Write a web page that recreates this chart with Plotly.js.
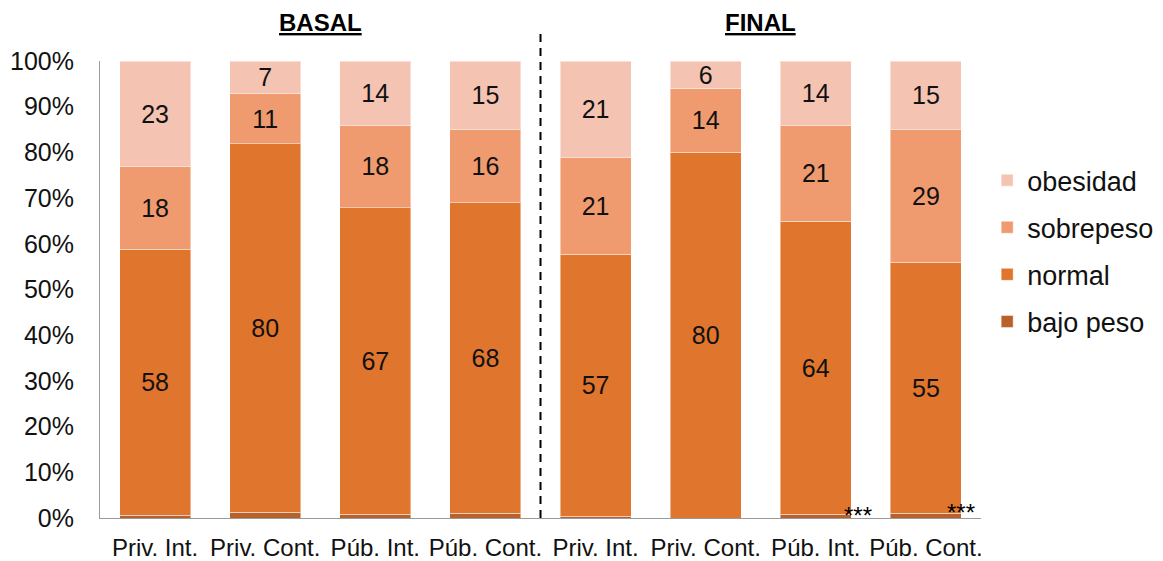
<!DOCTYPE html>
<html>
<head>
<meta charset="utf-8">
<script src="https://cdn.plot.ly/plotly-3.0.1.min.js"></script>
<style>
  html, body { margin: 0; padding: 0; background: #ffffff; }
  #chart { width: 1163px; height: 561px; }
</style>
</head>
<body>
<div id="chart"></div>
<script>
// Groups on the x axis (first four: baseline, last four: final)
const groupLabels = ['Priv. Int.', 'Priv. Cont.', 'Púb. Int.', 'Púb. Cont.',
                     'Priv. Int.', 'Priv. Cont.', 'Púb. Int.', 'Púb. Cont.'];
const positions = [0, 1, 2, 3, 4, 5, 6, 7];

// Percent of children in each nutritional category
const bajoPeso  = [0.6, 1.3, 0.8, 1.0, 0.4, 0.0, 0.8, 1.0];
const normal    = [58, 80, 67, 68, 57, 80, 64, 55];
const sobrepeso = [18, 11, 18, 16, 21, 14, 21, 29];
const obesidad  = [23, 7, 14, 15, 21, 6, 14, 15];

const seriesNames  = ['bajo peso', 'normal', 'sobrepeso', 'obesidad'];
const seriesColors = ['#B8612A', '#E0752D', '#F09A70', '#F5C3B2'];

const yTickValues = [0, 10, 20, 30, 40, 50, 60, 70, 80, 90, 100];
const yTickLabels = ['0%', '10%', '20%', '30%', '40%', '50%', '60%', '70%', '80%', '90%', '100%'];

const sectionTitles = ['BASAL', 'FINAL'];
const significance = ['***', '***'];

const font = 'Liberation Sans, Arial, sans-serif';

const seriesValues = [bajoPeso, normal, sobrepeso, obesidad];
const traces = seriesValues.map((vals, k) => ({
  type: 'bar',
  name: seriesNames[k],
  x: positions,
  y: vals,
  marker: { color: seriesColors[k], line: { color: 'rgba(255,255,255,0.45)', width: 1 } },
  text: k === 0 ? vals.map(() => '') : vals.map(String),
  textposition: k === 0 ? 'none' : 'inside',
  insidetextanchor: 'middle',
  textangle: 0,
  constraintext: 'none',
  insidetextfont: { family: font, size: 25, color: '#111111' },
  legendgroup: seriesNames[k],
  legendrank: 4 - k,
  hoverinfo: 'name+y'
}));

const layout = {
  width: 1163,
  height: 561,
  margin: { l: 100, r: 182, t: 61, b: 43, autoexpand: false },
  paper_bgcolor: '#ffffff',
  plot_bgcolor: '#ffffff',
  barmode: 'stack',
  barnorm: 'percent',
  bargap: 0.355,
  font: { family: font, color: '#111111' },
  showlegend: true,
  legend: {
    x: 1.007,
    xanchor: 'left',
    y: 0.584,
    yanchor: 'middle',
    traceorder: 'grouped',
    tracegroupgap: 9,
    font: { family: font, size: 27, color: '#111111' },
    bgcolor: 'rgba(0,0,0,0)'
  },
  xaxis: {
    range: [-0.5, 7.5],
    tickmode: 'array',
    tickvals: positions,
    ticktext: groupLabels,
    showline: true,
    linecolor: '#9a9a9a',
    linewidth: 1,
    ticks: 'outside',
    ticklen: 8,
    tickcolor: 'rgba(0,0,0,0)',
    tickfont: { family: font, size: 24, color: '#111111' },
    showgrid: false,
    zeroline: false,
    fixedrange: true
  },
  yaxis: {
    range: [0, 100],
    tickmode: 'array',
    tickvals: yTickValues,
    ticktext: yTickLabels,
    showline: true,
    linecolor: '#9a9a9a',
    linewidth: 1,
    ticks: 'outside',
    ticklen: 20,
    tickcolor: 'rgba(0,0,0,0)',
    tickfont: { family: font, size: 25, color: '#111111' },
    showgrid: false,
    zeroline: false,
    fixedrange: true
  },
  shapes: [{
    type: 'line',
    xref: 'x', yref: 'paper',
    x0: 3.5, x1: 3.5, y0: 0, y1: 1.06,
    line: { color: '#000000', width: 2, dash: '8px,6px' }
  }],
  annotations: [
    {
      xref: 'x', yref: 'paper', x: 1.5, y: 1.085, yanchor: 'middle',
      text: '<b><u>' + sectionTitles[0] + '</u></b>', showarrow: false,
      font: { family: font, size: 24, color: '#000000' }
    },
    {
      xref: 'x', yref: 'paper', x: 5.5, y: 1.085, yanchor: 'middle',
      text: '<b><u>' + sectionTitles[1] + '</u></b>', showarrow: false,
      font: { family: font, size: 24, color: '#000000' }
    },
    {
      xref: 'x', yref: 'paper', x: 6.38, y: 0.0047, yanchor: 'middle',
      text: significance[0], showarrow: false,
      font: { family: font, size: 24, color: '#000000' }
    },
    {
      xref: 'x', yref: 'paper', x: 7.32, y: 0.0125, yanchor: 'middle',
      text: significance[1], showarrow: false,
      font: { family: font, size: 24, color: '#000000' }
    }
  ]
};

Plotly.newPlot('chart', traces, layout, { displayModeBar: false, staticPlot: true });
</script>
</body>
</html>
